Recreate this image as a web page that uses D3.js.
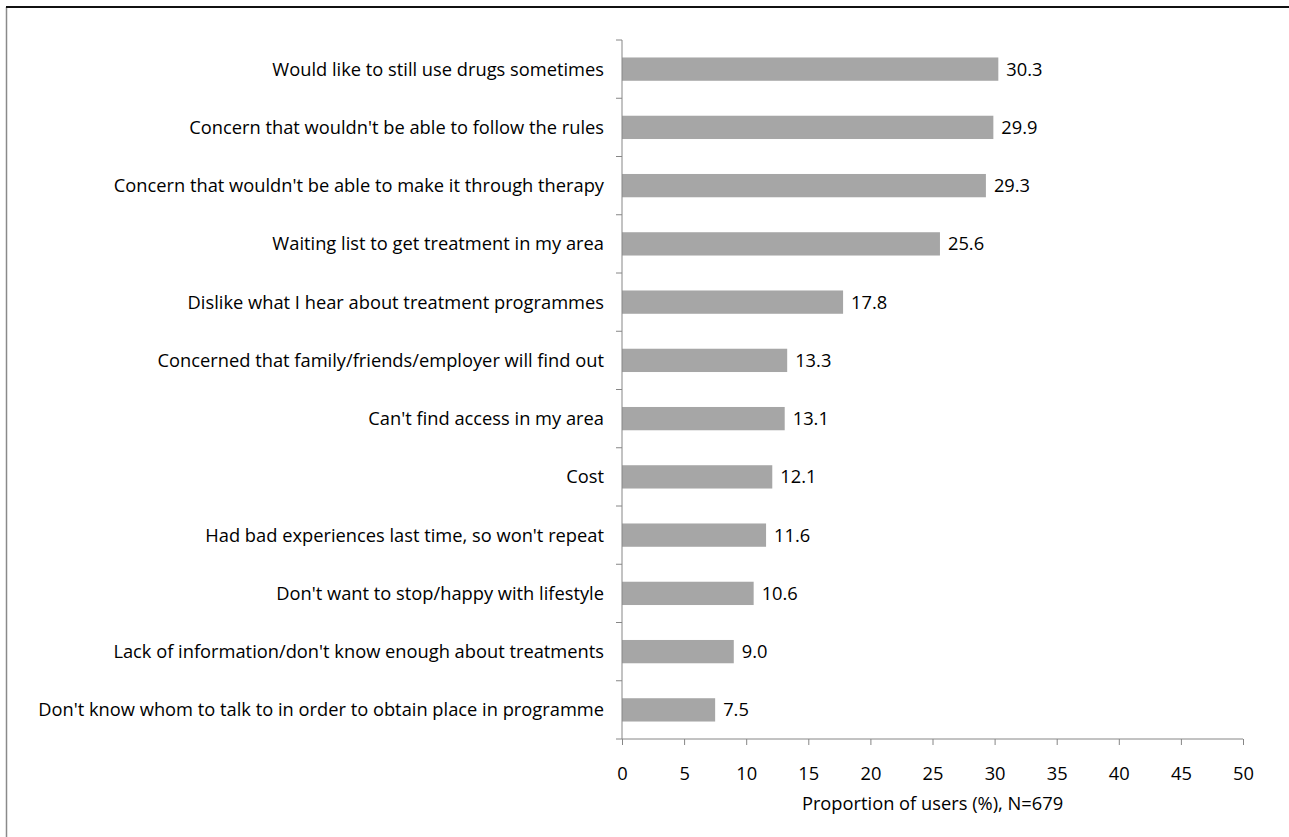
<!DOCTYPE html>
<html><head><meta charset="utf-8">
<script src="https://cdn.jsdelivr.net/npm/d3@7"></script>
<style>
html,body{margin:0;padding:0;background:#fff;}
svg{display:block;}
text{font-family:"Open Sans","Noto Sans",sans-serif;fill:#000;}
</style></head>
<body>
<svg id="chart" width="1289" height="837"></svg>
<script>
const categories = [
  "Would like to still use drugs sometimes",
  "Concern that wouldn't be able to follow the rules",
  "Concern that wouldn't be able to make it through therapy",
  "Waiting list to get treatment in my area",
  "Dislike what I hear about treatment programmes",
  "Concerned that family/friends/employer will find out",
  "Can't find access in my area",
  "Cost",
  "Had bad experiences last time, so won't repeat",
  "Don't want to stop/happy with lifestyle",
  "Lack of information/don't know enough about treatments",
  "Don't know whom to talk to in order to obtain place in programme"
];
const values = [30.3, 29.9, 29.3, 25.6, 17.8, 13.3, 13.1, 12.1, 11.6, 10.6, 9.0, 7.5];
const xTicks = [0, 5, 10, 15, 20, 25, 30, 35, 40, 45, 50];
const xTitle = "Proportion of users (%), N=679";

const svg = d3.select("#chart");
const axisColor = "#868686";

// fit font size so the longest label spans like the reference (~566px)
const probe = svg.append("text").attr("font-size", 16).text(categories[11]);
const fs = Math.round(16 * 566 / probe.node().getComputedTextLength() * 10) / 10;
probe.remove();

// outer border (top and left visible)
svg.append("line").attr("x1", 6.5).attr("x2", 6.5).attr("y1", 7).attr("y2", 837)
  .attr("stroke", "#8a8a8a").attr("stroke-width", 1.5);
svg.append("line").attr("x1", 6).attr("x2", 1289).attr("y1", 7).attr("y2", 7)
  .attr("stroke", "#111").attr("stroke-width", 2);

const x = d3.scaleLinear().domain([0, 50]).range([622, 1243]);
const y = d3.scaleBand().domain(categories).range([40, 739]).paddingInner(0.6).paddingOuter(0.3);
const yb = d3.scaleBand().domain(categories).range([40, 739]).padding(0);

// bars
svg.append("g").selectAll("rect").data(values).join("rect")
  .attr("x", x(0))
  .attr("y", (d, i) => y(categories[i]))
  .attr("width", d => x(d) - x(0))
  .attr("height", y.bandwidth())
  .attr("fill", "#a6a6a6");

// data labels
svg.append("g").selectAll("text").data(values).join("text")
  .attr("x", d => x(d) + 8)
  .attr("y", (d, i) => y(categories[i]) + y.bandwidth() / 2)
  .attr("dy", "0.36em")
  .attr("font-size", fs)
  .text(d => d.toFixed(1));

// y axis line and boundary ticks
const gy = svg.append("g");
gy.append("line").attr("x1", x(0)).attr("x2", x(0)).attr("y1", 40).attr("y2", 739)
  .attr("stroke", axisColor).attr("stroke-width", 1);
const bounds = categories.map(c => yb(c)).concat([739]);
gy.selectAll("line.tk").data(bounds).join("line").attr("class", "tk")
  .attr("x1", x(0) - 6).attr("x2", x(0)).attr("y1", d => d).attr("y2", d => d)
  .attr("stroke", axisColor);
gy.selectAll("text").data(categories).join("text")
  .attr("x", x(0) - 18)
  .attr("y", d => yb(d) + yb.bandwidth() / 2)
  .attr("dy", "0.36em")
  .attr("text-anchor", "end")
  .attr("font-size", fs)
  .text(d => d);

// x axis
const xAxis = d3.axisBottom(x).tickValues(xTicks).tickSize(6).tickPadding(22).tickFormat(d3.format("d"));
const gx = svg.append("g").attr("transform", "translate(0,739)").call(xAxis);
gx.select(".domain").attr("stroke", axisColor).attr("d", `M${x(0)},0H${x(50)}`);
gx.selectAll(".tick line").attr("stroke", axisColor);
gx.selectAll(".tick text").attr("font-size", fs).attr("font-family", "Open Sans").attr("fill", "#000").attr("dy", "0.36em").attr("y", 34);

svg.append("text").attr("x", (x(0) + x(50)) / 2).attr("y", 803).attr("dy", "0.36em")
  .attr("text-anchor", "middle").attr("font-size", fs).text(xTitle);
</script>
</body></html>
